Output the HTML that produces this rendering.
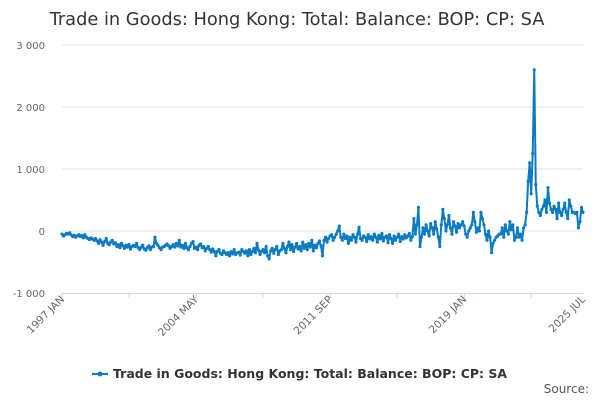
<!DOCTYPE html>
<html><head><meta charset="utf-8"><style>
body{margin:0;background:#fff;font-family:"DejaVu Sans",sans-serif}
svg{display:block}
</style></head><body>
<svg id="c" width="600" height="400" font-family="DejaVu Sans, sans-serif">
<text x="297" y="25" text-anchor="middle" font-size="17.8" fill="#333">Trade in Goods: Hong Kong: Total: Balance: BOP: CP: SA</text>
<g id="grid"></g><g id="axes"></g><g id="series"></g>
<g>
<line x1="92" y1="374" x2="108" y2="374" stroke="#0a7bc2" stroke-width="2"/>
<circle cx="100" cy="374" r="2.5" fill="#0a7bc2"/>
<text x="113" y="378" font-size="12.5" font-weight="bold" fill="#333">Trade in Goods: Hong Kong: Total: Balance: BOP: CP: SA</text>
</g>
<text x="589" y="393" text-anchor="end" font-size="12" fill="#555">Source:</text>
</svg>
<script>
const yTicks=[3000,2000,1000,0,-1000];
const yTickLabels=["3 000","2 000","1 000","0","-1 000"];
const xTickMonths=[0,88,176,264,342];
const xTickLabels=["1997 JAN","2004 MAY","2011 SEP","2019 JAN","2025 JUL"];
const values=[
-50,-80,-60,-40,-50,-30,-60,-90,-70,-100,-80,-60,
-90,-70,-110,-60,-100,-120,-140,-110,-130,-150,-120,-160,
-200,-140,-180,-230,-170,-120,-200,-220,-180,-150,-210,-190,
-250,-220,-270,-200,-240,-280,-230,-260,-220,-290,-250,-230,
-250,-200,-270,-300,-260,-230,-290,-310,-270,-240,-300,-260,
-250,-100,-200,-230,-270,-300,-260,-250,-230,-210,-240,-280,
-250,-220,-260,-200,-240,-150,-260,-230,-280,-200,-270,-300,
-250,-200,-170,-280,-260,-300,-230,-210,-270,-250,-320,-280,
-250,-300,-340,-290,-330,-400,-330,-300,-360,-380,-320,-350,
-380,-350,-400,-330,-370,-300,-380,-350,-340,-390,-300,-330,
-360,-320,-400,-300,-380,-330,-280,-350,-200,-310,-380,-330,
-300,-350,-250,-400,-450,-320,-280,-360,-300,-250,-380,-320,
-300,-200,-280,-350,-250,-180,-300,-220,-330,-260,-200,-290,
-250,-320,-180,-280,-220,-300,-200,-260,-150,-320,-230,-270,
-200,-160,-240,-400,-150,-100,-180,-120,-80,-60,-150,-100,
-50,0,80,-100,-150,-50,-120,-80,-200,-100,-150,-60,
-100,-180,-50,60,-120,-150,-80,-100,-170,-60,-130,-90,
-150,-50,-100,-180,-70,-130,-40,-160,-100,-80,-190,-60,
-120,-200,-80,-150,-100,-50,-170,-90,-130,-60,-110,-80,
-40,-150,-90,200,-50,100,380,-250,-100,50,-50,100,
0,-80,120,50,-50,150,30,-100,-250,100,350,200,
0,100,250,50,-50,150,80,-20,120,50,100,150,
80,-50,-100,0,50,100,300,150,-20,50,0,300,
200,100,-50,-150,0,-100,-350,-200,-150,-100,-80,-50,
-50,50,-100,100,0,-50,150,20,100,-150,-100,50,
-100,-50,-150,50,100,300,800,1100,600,1250,2600,750,
400,300,250,350,400,500,300,700,450,350,300,400,
350,200,450,300,250,350,450,300,200,500,400,300,
300,280,300,50,150,380,300];
const NS="http://www.w3.org/2000/svg";
const X0=62,X1=583,Y0=231,PPU=62/1000;
const xs=m=>X0+(X1-X0)*m/342;
const ys=v=>Y0-v*PPU;
function mk(t,a,p){const e=document.createElementNS(NS,t);for(const k in a)e.setAttribute(k,a[k]);p.appendChild(e);return e;}
const grid=document.getElementById('grid'),axes=document.getElementById('axes'),ser=document.getElementById('series');
yTicks.forEach((v,i)=>{
 if(v!==-1000){const l=mk('line',{x1:X0,x2:X1,y1:ys(v),y2:ys(v),stroke:'#e0e0e0','stroke-width':1},grid);
 
 }
 const t=mk('text',{x:45,y:ys(v)+4,'text-anchor':'end','font-size':10,fill:'#666'},axes);t.textContent=yTickLabels[i];
 
 
});
const ax=mk('line',{x1:X0,x2:X1,y1:293.5,y2:293.5,stroke:'#ccd6eb','stroke-width':1},axes);


for(let m=0;m<=342;m+=44){const l=mk('line',{x1:xs(m),x2:xs(m),y1:293,y2:298,stroke:'#ccd6eb'},axes);

}
xTickMonths.forEach((m,i)=>{
 const x=xs(m)+3,y=300;
 const t=mk('text',{x:x,y:y,'text-anchor':'end','font-size':10.5,fill:'#666',transform:`rotate(-45 ${x} ${y})`},axes);t.textContent=xTickLabels[i];
 
 
});
const pl=mk('polyline',{points:values.map((v,i)=>xs(i)+','+ys(v)).join(' '),fill:'none',stroke:'#0a7bc2','stroke-width':2,'stroke-linejoin':'round'},ser);


values.forEach((v,i)=>{const c=mk('circle',{cx:xs(i),cy:ys(v),r:1.6,fill:'#0a7bc2'},ser);

});
</script>
</body></html>
